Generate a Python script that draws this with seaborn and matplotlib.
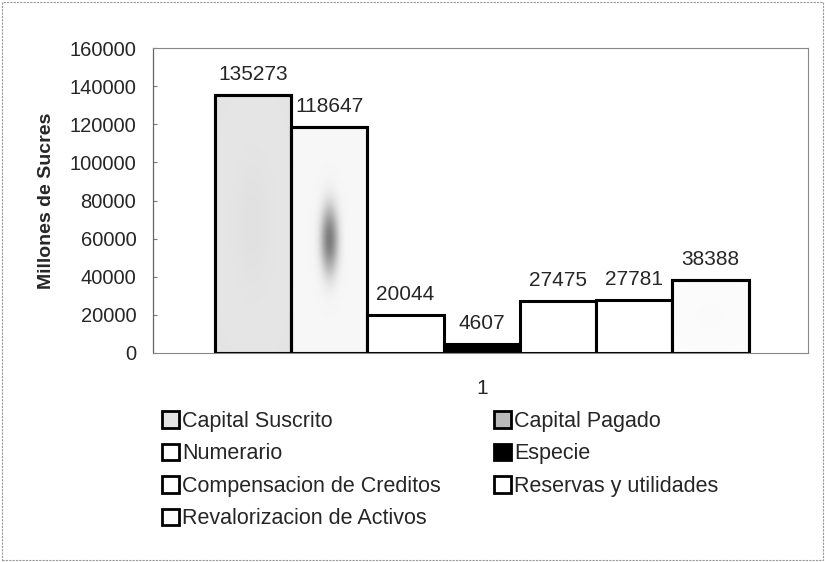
import pandas as pd
import numpy as np
import seaborn as sns
import matplotlib.pyplot as plt
from matplotlib.patches import Rectangle

# Data
categories = ['Capital Suscrito', 'Capital Pagado', 'Numerario', 'Especie',
              'Compensacion de Creditos', 'Reservas y utilidades',
              'Revalorizacion de Activos']
values = [135273, 118647, 20044, 4607, 27475, 27781, 38388]
group = ['1'] * len(categories)
fills = ['#e4e4e4', '#f7f7f7', 'white', 'black', 'white', 'white', '#fcfcfc']
speckle = [0.25, 0.75, 0, 0, 0, 0, 0.12]   # darkness of the dotted centre of each bar

df = pd.DataFrame({'Serie': categories, 'Valor': values, 'Grupo': group})

sns.set_style('white')
plt.rcParams['font.family'] = ['Liberation Sans', 'DejaVu Sans']

W, H = 825, 562
fig = plt.figure(figsize=(W / 100, H / 100), dpi=100)
ax = fig.add_axes([153 / W, 1 - 353 / H, (808 - 153) / W, (353 - 48) / H])

sns.barplot(data=df, x='Grupo', y='Valor', hue='Serie', hue_order=categories,
            palette=fills, width=0.815, gap=0, edgecolor='black', linewidth=2.2,
            legend=False, ax=ax)

# stippled shading in the middle of some bars (as in the scanned original)
gy, gx = np.mgrid[-1:1:120j, -1:1:60j]
for patch, s in zip(ax.patches, speckle):
    if s == 0:
        continue
    x0, y0 = patch.get_x(), patch.get_y()
    x1, y1 = x0 + patch.get_width(), y0 + patch.get_height()
    if s > 0.5:
        blob = np.exp(-(gx / 0.35) ** 2 - (gy / 0.45) ** 2) * s
    else:
        blob = np.exp(-(gx / 0.9) ** 2 - (gy / 0.9) ** 2) * s
    img = ax.imshow(blob, cmap='Greys', vmin=0, vmax=1, alpha=blob.clip(0, 1),
                    extent=[x0, x1, y0, y1], aspect='auto', zorder=patch.get_zorder() + 0.1,
                    interpolation='bilinear')
    img.set_clip_path(patch)
    ax.add_patch(Rectangle((x0, y0), x1 - x0, y1 - y0, fill=False, edgecolor='black',
                           linewidth=2.2, zorder=patch.get_zorder() + 0.2))

for cont in ax.containers:
    ax.bar_label(cont, fontsize=15, padding=8)

ax.set_ylim(0, 160000)
ax.set_yticks(np.arange(0, 160001, 20000))
ax.set_xlim(-0.502, 0.498)
ax.tick_params(axis='y', labelsize=14.5, length=3, width=0.8, color='#777777',
               direction='in', left=True, pad=12)
ax.tick_params(axis='x', labelsize=15, length=0, pad=19)
ax.set_xlabel('')
ax.set_ylabel('Millones de Sucres', fontsize=14, fontweight='bold')
ax.yaxis.set_label_coords(-0.15, 0.5)

ax.spines['left'].set_color('#666666')
ax.spines['left'].set_linewidth(0.9)
for s in ['top', 'right', 'bottom']:
    ax.spines[s].set_color('#888888')
    ax.spines[s].set_linestyle((0, (2, 1)))
    ax.spines[s].set_linewidth(0.8)

# legend: two columns placed like the original
handles = [Rectangle((0, 0), 1, 1, facecolor=c, edgecolor='black', linewidth=2)
           for c in fills]
handles[1].set_facecolor('#bbbbbb')
leg_kw = dict(loc='upper left', frameon=False, fontsize=15.5, handlelength=0.8,
              handleheight=0.8, handletextpad=0.15, labelspacing=0.53,
              borderaxespad=0, borderpad=0)
col1, col2 = [0, 2, 4, 6], [1, 3, 5]
fig.legend([handles[i] for i in col1], [categories[i] for i in col1],
           bbox_to_anchor=(162 / W, 1 - 411 / H), **leg_kw)
fig.legend([handles[i] for i in col2], [categories[i] for i in col2],
           bbox_to_anchor=(494 / W, 1 - 411 / H), **leg_kw)

# outer chart border
fig.patches.append(Rectangle((0.003, 0.003), 0.994, 0.994, transform=fig.transFigure,
                             fill=False, edgecolor='#999999', linewidth=0.8,
                             linestyle=(0, (2, 1))))

fig.savefig('out.png', dpi=100)
